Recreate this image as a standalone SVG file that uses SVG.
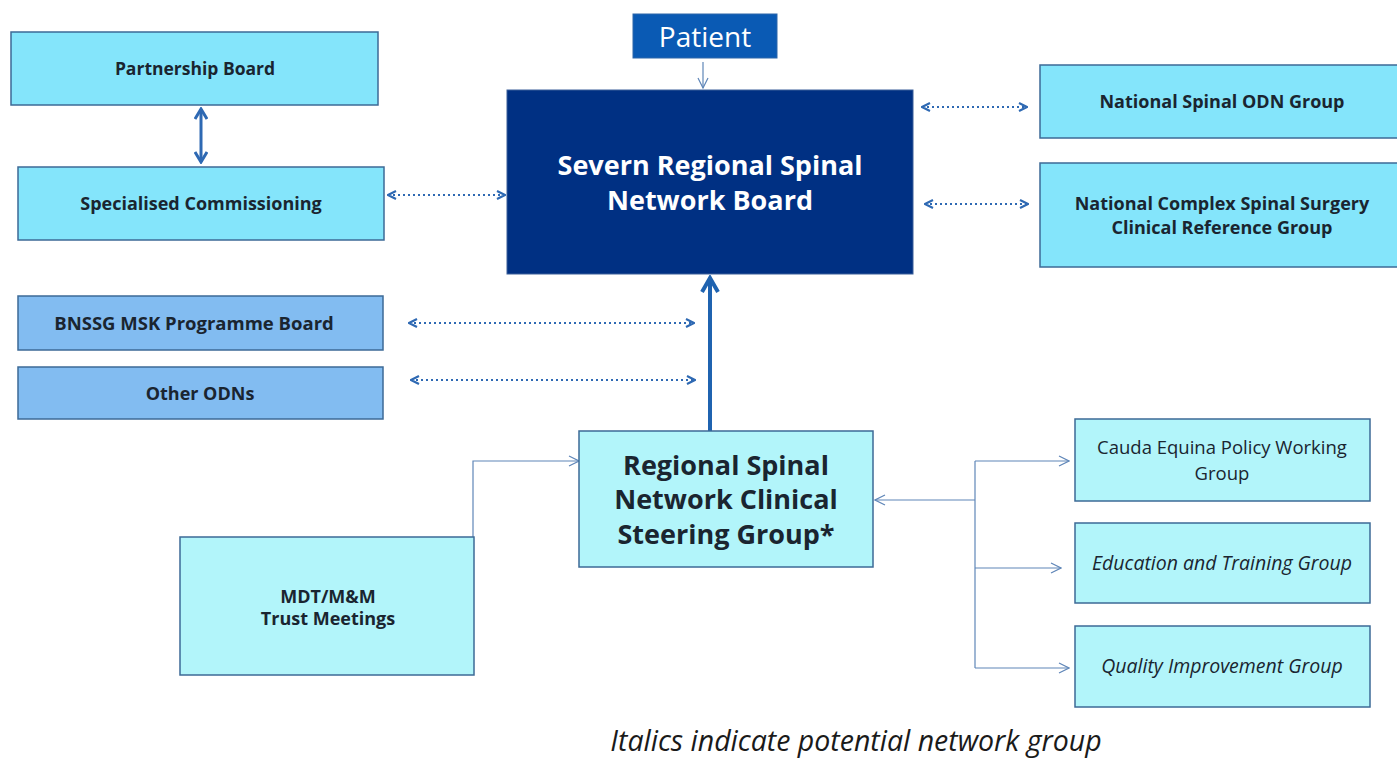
<svg xmlns="http://www.w3.org/2000/svg" width="1397" height="760" viewBox="0 0 1397 760">
<style>
.box{stroke:#3d6a96;stroke-width:1.5}
.c1{fill:#84e5fb}
.c2{fill:#b2f5fa}
.c3{fill:#82bcf1}
.t{font-family:"Open Sans","Liberation Sans",sans-serif;fill:#1a2530;text-anchor:middle}
.b{font-weight:bold}
.dot{stroke:#2e69b3;stroke-width:2.2;stroke-dasharray:2 3;fill:none}
.thin{stroke:#5f86b8;stroke-width:1.2;fill:none}
</style>
<defs>
<marker id="chev" viewBox="0 0 10 10" refX="9" refY="5" markerWidth="10" markerHeight="10" markerUnits="userSpaceOnUse" orient="auto-start-reverse">
<path d="M1,1 L9,5 L1,9" fill="none" stroke="#2e69b3" stroke-width="2.2"/>
</marker>
<marker id="thinA" viewBox="0 0 12 12" refX="11" refY="6" markerWidth="12" markerHeight="12" markerUnits="userSpaceOnUse" orient="auto-start-reverse">
<path d="M1,1 L11,6 L1,11" fill="none" stroke="#5f86b8" stroke-width="1.2"/>
</marker>
<marker id="solidA" viewBox="0 0 14 14" refX="12" refY="7" markerWidth="14" markerHeight="14" markerUnits="userSpaceOnUse" orient="auto-start-reverse">
<path d="M2,1 L12,7 L2,13" fill="none" stroke="#2e69b3" stroke-width="3"/>
</marker>
<marker id="bigA" viewBox="0 0 20 20" refX="17" refY="10" markerWidth="20" markerHeight="20" markerUnits="userSpaceOnUse" orient="auto">
<path d="M3,2 L17,10 L3,18" fill="none" stroke="#1f63b0" stroke-width="4"/>
</marker>
</defs>

<g id="connectors">
<line x1="201" y1="109" x2="201" y2="162" stroke="#2e69b3" stroke-width="3" marker-start="url(#solidA)" marker-end="url(#solidA)"/>
<line class="dot" x1="388" y1="195" x2="505" y2="195" marker-start="url(#chev)" marker-end="url(#chev)"/>
<line class="dot" x1="922" y1="107" x2="1027" y2="107" marker-start="url(#chev)" marker-end="url(#chev)"/>
<line class="dot" x1="925" y1="204" x2="1028" y2="204" marker-start="url(#chev)" marker-end="url(#chev)"/>
<line class="dot" x1="409" y1="323" x2="694" y2="323" marker-start="url(#chev)" marker-end="url(#chev)"/>
<line class="dot" x1="411" y1="380" x2="695" y2="380" marker-start="url(#chev)" marker-end="url(#chev)"/>
<line x1="703" y1="62" x2="703" y2="88" class="thin" marker-end="url(#thinA)"/>
<line x1="710" y1="432" x2="710" y2="278" stroke="#1f63b0" stroke-width="4" marker-end="url(#bigA)"/>
<polyline class="thin" points="473,537 473,461 579,461" marker-end="url(#thinA)"/>
<line class="thin" x1="975" y1="500" x2="875" y2="500" marker-end="url(#thinA)"/>
<line class="thin" x1="975" y1="461" x2="975" y2="668"/>
<line class="thin" x1="975" y1="461" x2="1069" y2="461" marker-end="url(#thinA)"/>
<line class="thin" x1="975" y1="568" x2="1061" y2="568" marker-end="url(#thinA)"/>
<line class="thin" x1="975" y1="668" x2="1069" y2="668" marker-end="url(#thinA)"/>
</g>

<g id="partnership-board">
<rect class="box c1" x="11" y="32" width="367" height="73"/>
<text class="t b" x="195" y="75" font-size="17.5">Partnership Board</text>
</g>
<g id="specialised-commissioning">
<rect class="box c1" x="18" y="167" width="366" height="73"/>
<text class="t b" x="201" y="210" font-size="18">Specialised Commissioning</text>
</g>
<g id="patient">
<rect x="633" y="14" width="144" height="44" fill="#0a5ab4" stroke="#2c66aa" stroke-width="1"/>
<text x="705" y="47" font-size="28" font-family="Open Sans, Liberation Sans, sans-serif" fill="#ffffff" text-anchor="middle">Patient</text>
</g>
<g id="severn-board">
<rect x="507" y="90" width="406" height="184" fill="#003083" stroke="#3a5f99" stroke-width="1"/>
<text class="b" x="710" y="175" font-size="27" font-family="Open Sans, Liberation Sans, sans-serif" fill="#ffffff" text-anchor="middle">Severn Regional Spinal</text>
<text class="b" x="710" y="210" font-size="27" font-family="Open Sans, Liberation Sans, sans-serif" fill="#ffffff" text-anchor="middle">Network Board</text>
</g>
<g id="national-odn">
<rect class="box c1" x="1040" y="65" width="362" height="73"/>
<text class="t b" x="1222" y="108" font-size="18">National Spinal ODN Group</text>
</g>
<g id="national-complex">
<rect class="box c1" x="1040" y="163" width="362" height="104"/>
<text class="t b" x="1222" y="210" font-size="18">National Complex Spinal Surgery</text>
<text class="t b" x="1222" y="234" font-size="18">Clinical Reference Group</text>
</g>
<g id="bnssg">
<rect class="box c3" x="18" y="296" width="365" height="54"/>
<text class="t b" x="194" y="330" font-size="18.5">BNSSG MSK Programme Board</text>
</g>
<g id="other-odns">
<rect class="box c3" x="18" y="367" width="365" height="52"/>
<text class="t b" x="200" y="400" font-size="18">Other ODNs</text>
</g>
<g id="steering-group">
<rect class="box c2" x="579" y="431" width="294" height="136"/>
<text class="t b" x="726" y="475" font-size="27">Regional Spinal</text>
<text class="t b" x="726" y="509" font-size="27">Network Clinical</text>
<text class="t b" x="726" y="544" font-size="27">Steering Group*</text>
</g>
<g id="mdt">
<rect class="box c2" x="180" y="537" width="294" height="138"/>
<text class="t b" x="328" y="603" font-size="18">MDT/M&amp;M</text>
<text class="t b" x="328" y="625" font-size="18">Trust Meetings</text>
</g>
<g id="cauda-equina">
<rect class="box c2" x="1075" y="419" width="295" height="82"/>
<text class="t" x="1222" y="454" font-size="18.5">Cauda Equina Policy Working</text>
<text class="t" x="1222" y="480" font-size="18.5">Group</text>
</g>
<g id="education">
<rect class="box c2" x="1075" y="523" width="295" height="80"/>
<text class="t" x="1222" y="570" font-size="19.5" font-style="italic">Education and Training Group</text>
</g>
<g id="quality">
<rect class="box c2" x="1075" y="626" width="295" height="81"/>
<text class="t" x="1222" y="673" font-size="19.5" font-style="italic">Quality Improvement Group</text>
</g>
<text x="856" y="751" font-size="28.5" font-style="italic" font-family="Open Sans, Liberation Sans, sans-serif" fill="#1a1a1a" text-anchor="middle">Italics indicate potential network group</text>
</svg>
